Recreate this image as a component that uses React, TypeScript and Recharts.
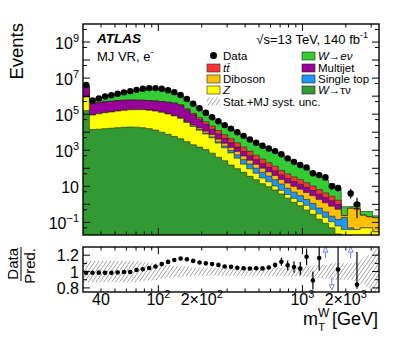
import React from "react";
import { ComposedChart, Area, Scatter, XAxis, YAxis, ErrorBar } from "recharts";

const FONT = "'Liberation Sans', Arial, Helvetica, sans-serif";

// m_T^W bin edges [GeV]
const binEdges = [30, 33.2, 36.7, 40.6, 44.9, 49.6, 54.9, 60.7, 67.1, 74.2, 82.1, 90.8, 100.4, 111.0, 122.8, 135.8, 150.1, 166.0, 183.6, 203.1, 224.6, 248.3, 274.6, 303.7, 335.9, 371.4, 410.8, 454.3, 502.4, 555.6, 614.4, 679.5, 751.4, 831.0, 919.0, 1016, 1124, 1243, 1375, 1520, 1681, 1859, 2056, 2274, 2515, 2781, 3076, 3400];

// expected events per bin
const wenu = [7.0e5, 2.05e5, 3.2e5, 4.8e5, 6.2e5, 8.1e5, 1.03e6, 1.3e6, 1.58e6, 1.92e6, 2.12e6, 2.08e6, 1.83e6, 1.44e6, 1.04e6, 6.7e5, 4.04e5, 2.27e5, 1.27e5, 7.2e4, 3.98e4, 2.49e4, 1.61e4, 1.07e4, 6970, 4520, 2930, 1980, 1380, 996, 703, 464, 282, 183, 122.5, 79, 49, 29.5, 17.8, 11.2, 6.1, 0.5, 0.15, 0.6, 0.15, 0.2, 0.05];
const ttbar = [2e4, 4000, 4500, 5000, 5500, 6000, 6500, 7000, 7500, 8000, 8500, 9000, 9500, 1.1e4, 1.3e4, 1.5e4, 2.1e4, 1.86e4, 1.43e4, 1.05e4, 7100, 4300, 2670, 1710, 1070, 660, 380, 231, 143, 91, 57, 33.5, 21.5, 14.6, 10.3, 7.0, 4.6, 2.9, 1.9, 1.23, 0.7, 0, 0, 0.05, 0, 0, 0];
const multijet = [2.65e6, 2.9e5, 3.3e5, 3.7e5, 3.9e5, 4.1e5, 4.3e5, 4.3e5, 4.2e5, 4.1e5, 3.9e5, 3.9e5, 3.7e5, 3.5e5, 3.2e5, 2.55e5, 1.39e5, 6.8e4, 3.25e4, 1.6e4, 7400, 3900, 2180, 1210, 670, 370, 217, 131, 80, 50, 32, 18.7, 12.2, 8.6, 6.1, 4.2, 2.8, 1.8, 1.2, 0.78, 0.47, 0, 0, 0, 0, 0, 0];
const diboson = [4000, 300, 350, 400, 450, 500, 550, 600, 650, 700, 750, 800, 850, 1000, 1200, 1500, 2500, 3000, 3100, 2600, 1900, 1150, 700, 450, 290, 177, 106, 65, 41, 26, 17.5, 10.6, 7.3, 5.2, 3.9, 2.7, 1.9, 1.26, 0.84, 0.57, 0.39, 0.05, 0.55, 0.5, 0.2, 0.15, 0.15];
const singleTop = [5000, 400, 450, 500, 550, 600, 650, 700, 750, 800, 850, 900, 950, 1000, 1000, 1000, 1800, 1700, 1150, 880, 600, 450, 350, 260, 190, 132, 80, 48, 31, 19, 12.5, 7.5, 4.3, 2.6, 1.6, 1.0, 0.59, 0.32, 0.19, 0.11, 0.08, 0.15, 0.01, 0, 0, 0, 0];
const zjets = [7.3e5, 7.5e4, 9.0e4, 1.04e5, 1.15e5, 1.3e5, 1.44e5, 1.54e5, 1.59e5, 1.6e5, 1.5e5, 1.35e5, 1.16e5, 9.5e4, 7.4e4, 5.45e4, 3.14e4, 1.86e4, 1.15e4, 6900, 4200, 2080, 1100, 560, 270, 110, 57, 30, 15, 8.4, 4.2, 2.2, 1.3, 0.86, 0.58, 0.39, 0.25, 0.15, 0.1, 0.06, 0.04, 0.03, 0.03, 0.03, 0.04, 0.04, 0.02];
const wtaunu = [1.58e5, 1.41e4, 1.48e4, 1.58e4, 1.66e4, 1.78e4, 1.86e4, 1.95e4, 1.91e4, 1.78e4, 1.58e4, 1.32e4, 1.0e4, 7600, 5750, 4370, 3000, 2000, 1500, 1100, 690, 410, 260, 150, 95, 60, 36, 23, 14, 9.6, 6.2, 3.8, 2.2, 1.3, 0.83, 0.49, 0.28, 0.15, 0.09, 0.05, 0.023, 0.01, 0.01, 0.01, 0.01, 0.01, 0.01];

// observed events (null = empty bin)
const dataCounts = [4.2e6, 5.8e5, 7.5e5, 9.6e5, 1.13e6, 1.36e6, 1.62e6, 1.9e6, 2.23e6, 2.59e6, 2.8e6, 2.79e6, 2.55e6, 2.13e6, 1.66e6, 1.16e6, 6.93e5, 3.83e5, 2.12e5, 1.21e5, 6.73e4, 4.02e4, 2.48e4, 1.59e4, 1.0e4, 6270, 3950, 2610, 1770, 1260, 899, 605, 356, 228, 151, 112, 53, 42, 32, 10, 8, null, 4, 1, null, null, null];
const dataErr: Record<number, [number, number]> = { 36: [7, 8], 37: [6.5, 7.5], 38: [5.6, 6.7], 39: [3.1, 4.3], 40: [2.8, 3.9], 42: [1.9, 3.2], 43: [0.83, 1.36] };
const ratioErr: Record<number, [number, number]> = { 30: [0.03, 0.03], 31: [0.05, 0.05], 32: [0.06, 0.06], 33: [0.07, 0.07], 34: [0.08, 0.08], 35: [0.1, 0.1], 36: [0.11, 0.11], 37: [0.15, 0.15], 40: [0.6, 0.6], 43: [0.05, 0.4] };
// Stat.+MJ syst. relative uncertainty
const statMjUnc = [0.13, 0.13, 0.13, 0.13, 0.13, 0.13, 0.13, 0.13, 0.13, 0.12, 0.11, 0.1, 0.09, 0.08, 0.07, 0.065, 0.06, 0.05, 0.05, 0.05, 0.05, 0.05, 0.05, 0.05, 0.05, 0.05, 0.05, 0.05, 0.05, 0.05, 0.05, 0.05, 0.05, 0.06, 0.06, 0.07, 0.07, 0.08, 0.08, 0.1, 0.1, 0.1, 0.1, 0.12, 0.15, 0.2, 1.0];

const mainYTicks = [0.05, 0.1, 0.5, 1, 5, 10, 50, 100, 500, 1e3, 5e3, 1e4, 5e4, 1e5, 5e5, 1e6, 5e6, 1e7, 5e7, 1e8, 5e8, 1e9, 5e9];
const mainYLabels = [0.1, 10, 1e3, 1e5, 1e7, 1e9];
const xTicks = [40, 50, 60, 70, 80, 90, 100, 200, 300, 400, 500, 600, 700, 800, 900, 1000, 2000, 3000];
const ratioTicks = [0.8, 0.9, 1, 1.1, 1.2];
const ratioLabels = [0.8, 1, 1.2];

const STACK = [
  { key: "wtaunu", values: wtaunu, color: "#339933" },
  { key: "zjets", values: zjets, color: "#ffff00" },
  { key: "singleTop", values: singleTop, color: "#1e96ff" },
  { key: "diboson", values: diboson, color: "#ffc000" },
  { key: "multijet", values: multijet, color: "#990099" },
  { key: "ttbar", values: ttbar, color: "#ff3333" },
  { key: "wenu", values: wenu, color: "#33cc33" },
];

// layout
const W = 399;
const PL = 83;
const PR = 379;
const MAIN_H = 240;
const MAIN_TOP = 24;
const MAIN_BOT = 235;
const RAT_OFF = 240;
const RAT_H = 97;
const RAT_TOP = 7;
const RAT_BOT = 52;
const R_MIN = 0.75;
const R_MAX = 1.3;

const nBins = binEdges.length - 1;
const stackRows = binEdges.map((edge, k) => {
  const i = Math.min(k, nBins - 1);
  const row: Record<string, number> = { x: edge };
  let sum = 0;
  for (const s of STACK) {
    sum += s.values[i];
    row[s.key] = sum;
  }
  return row;
});
const totals = binEdges.slice(0, -1).map((_, i) => STACK.reduce((a, s) => a + s.values[i], 0));
const centers = binEdges.slice(0, -1).map((lo, i) => Math.sqrt(lo * binEdges[i + 1]));

const dataPoints: any[] = [];
const ratioPoints: any[] = [];
const upArrows: any[] = [];
const downArrows: any[] = [];
dataCounts.forEach((n, i) => {
  if (n == null) return;
  dataPoints.push({ x: centers[i], y: n, err: dataErr[i] ?? [0, 0] });
  const r = n / totals[i];
  if (r > R_MAX) upArrows.push({ x: centers[i], y: 1.225 });
  else if (r < R_MIN) downArrows.push({ x: centers[i], y: 0.85 });
  else {
    const e = ratioErr[i] ?? [0, 0];
    // keep the bars inside the frame
    ratioPoints.push({ x: centers[i], y: r, err: [Math.min(e[0], r - R_MIN), Math.min(e[1], R_MAX - r)] });
  }
});

const bandRows = binEdges.map((edge, k) => {
  const u = statMjUnc[Math.min(k, nBins - 1)];
  return { x: edge, lo: 1 - u, hi: 1 + u };
});

const xLabel = (v: number) => {
  if (v === 40) return "40";
  if (v === 100) return ["", "2"];
  if (v === 200) return ["2×", "2"];
  if (v === 1000) return ["", "3"];
  if (v === 2000) return ["2×", "3"];
  return null;
};

function XTick(props: any) {
  const { x, payload, top, bottom, labels } = props;
  const v = payload.value;
  const major = v === 100 || v === 1000;
  const len = major ? 7 : 3.5;
  const lab = labels ? xLabel(v) : null;
  return (
    <g>
      <line x1={x} x2={x} y1={bottom} y2={bottom - len} stroke="#000" />
      <line x1={x} x2={x} y1={top} y2={top + len} stroke="#000" />
      {typeof lab === "string" && (
        <text x={x} y={bottom + 13} textAnchor="middle" fontSize={16} fontFamily={FONT} fill="#000">{lab}</text>
      )}
      {Array.isArray(lab) && (
        <text x={x} y={bottom + 13} textAnchor="middle" fontSize={16} fontFamily={FONT} fill="#000">
          {lab[0]}10<tspan dy={-7} fontSize={11}>{lab[1]}</tspan>
        </text>
      )}
    </g>
  );
}

function MainYTick(props: any) {
  const { y, payload } = props;
  const v = payload.value;
  const e = Math.round(Math.log10(v));
  const decade = Math.abs(Math.log10(v) - e) < 1e-6;
  const len = decade ? 7 : 4;
  return (
    <g>
      <line x1={PL} x2={PL + len} y1={y} y2={y} stroke="#000" />
      <line x1={PR} x2={PR - len} y1={y} y2={y} stroke="#000" />
      {mainYLabels.includes(v) && (
        <text x={PL - 4} y={y + 6.5} textAnchor="end" fontSize={16} fontFamily={FONT} fill="#000">
          10{e !== 1 && <tspan dy={-7} fontSize={11}>{e < 0 ? "\u2212" + -e : e}</tspan>}
        </text>
      )}
    </g>
  );
}

function RatioYTick(props: any) {
  const { y, payload } = props;
  const v = payload.value;
  const lab = ratioLabels.includes(v);
  const len = lab ? 7 : 4;
  return (
    <g>
      <line x1={PL} x2={PL + len} y1={y} y2={y} stroke="#000" />
      <line x1={PR} x2={PR - len} y1={y} y2={y} stroke="#000" />
      {lab && (
        <text x={PL - 4} y={y + 6} textAnchor="end" fontSize={16} fontFamily={FONT} fill="#000">{String(v)}</text>
      )}
    </g>
  );
}

const Dot = (r: number) => (p: any) => <circle cx={p.cx} cy={p.cy} r={r} fill="#000" />;
const ARROW = "#6f7bf7";
const UpArrow = (p: any) => (
  <g stroke={ARROW} strokeWidth={1}>
    <line x1={p.cx} x2={p.cx} y1={p.cy + 5} y2={p.cy - 1} />
    <path d={`M${p.cx - 2.5},${p.cy - 1} L${p.cx + 2.5},${p.cy - 1} L${p.cx},${p.cy - 6} Z`} fill="#fff" />
  </g>
);
const DownArrow = (p: any) => (
  <g stroke={ARROW} strokeWidth={1}>
    <line x1={p.cx} x2={p.cx} y1={p.cy - 6} y2={p.cy + 1} />
    <path d={`M${p.cx - 2.5},${p.cy + 1} L${p.cx + 2.5},${p.cy + 1} L${p.cx},${p.cy + 6} Z`} fill="#fff" />
  </g>
);

const legendLeft = [
  { label: "Diboson", color: "#ffc000", y: 79 },
  { label: "Z", color: "#ffff00", y: 90, italic: true },
];
const legendRight = [
  { label: "Multijet", color: "#990099", y: 68 },
  { label: "Single top", color: "#1e96ff", y: 79 },
];

export default function App() {
  return (
    <div style={{ position: "absolute", left: 0, top: 0, width: W, height: 337, background: "#fff" }}>
      <svg width={0} height={0} style={{ position: "absolute" }}>
        <defs>
          <pattern id="hatch" width="3.2" height="3.2" patternUnits="userSpaceOnUse" patternTransform="rotate(35)">
            <line x1="0" y1="0" x2="0" y2="3.2" stroke="#555" strokeWidth="0.9" />
          </pattern>
        </defs>
      </svg>
      <div style={{ position: "absolute", left: 0, top: 0 }}>
        <ComposedChart width={W} height={MAIN_H} data={stackRows}
          margin={{ top: MAIN_TOP, right: W - PR, bottom: 0, left: 0 }}>
          <XAxis dataKey="x" type="number" scale="log" domain={[30, 3400]} allowDataOverflow
            ticks={xTicks} interval={0} height={MAIN_H - MAIN_BOT} axisLine={false} tickLine={false}
            tick={(p: any) => <XTick {...p} top={MAIN_TOP} bottom={MAIN_BOT} labels={false} />} />
          <YAxis type="number" scale="log" domain={[0.02, 1e10]} allowDataOverflow
            ticks={mainYTicks} interval={0} width={PL} axisLine={false} tickLine={false}
            tick={(p: any) => <MainYTick {...p} />} />
          {[...STACK].reverse().map((s) => (
            <Area key={s.key} type="stepAfter" dataKey={s.key} fill={s.color} fillOpacity={1}
              stroke="#222" strokeWidth={0.6} baseValue={0.02} dot={false} activeDot={false}
              isAnimationActive={false} />
          ))}
          <Scatter data={dataPoints} dataKey="y" shape={Dot(3.2)} isAnimationActive={false}>
            <ErrorBar dataKey="err" direction="y" width={0} stroke="#000" strokeWidth={1.2} />
          </Scatter>
        </ComposedChart>
      </div>
      <div style={{ position: "absolute", left: 0, top: RAT_OFF }}>
        <ComposedChart width={W} height={RAT_H} data={bandRows}
          margin={{ top: RAT_TOP, right: W - PR, bottom: 0, left: 0 }}>
          <XAxis dataKey="x" type="number" scale="log" domain={[30, 3400]} allowDataOverflow
            ticks={xTicks} interval={0} height={RAT_H - RAT_BOT} axisLine={false} tickLine={false}
            tick={(p: any) => <XTick {...p} top={RAT_TOP} bottom={RAT_BOT} labels />} />
          <YAxis type="number" domain={[R_MIN, R_MAX]} allowDataOverflow
            ticks={ratioTicks} interval={0} width={PL} axisLine={false} tickLine={false}
            tick={(p: any) => <RatioYTick {...p} />} />
          <Area type="stepAfter" dataKey="hi" fill="url(#hatch)" fillOpacity={1} stroke="none"
            baseValue={R_MIN} dot={false} activeDot={false} isAnimationActive={false} />
          <Area type="stepAfter" dataKey="lo" fill="#fff" fillOpacity={1} stroke="none"
            baseValue={R_MIN} dot={false} activeDot={false} isAnimationActive={false} />
          <Scatter data={ratioPoints} dataKey="y" shape={Dot(2.3)} isAnimationActive={false}>
            <ErrorBar dataKey="err" direction="y" width={0} stroke="#000" strokeWidth={1.2} />
          </Scatter>
          <Scatter data={upArrows} dataKey="y" shape={UpArrow} isAnimationActive={false} />
          <Scatter data={downArrows} dataKey="y" shape={DownArrow} isAnimationActive={false} />
        </ComposedChart>
      </div>
      <svg width={W} height={337} style={{ position: "absolute", left: 0, top: 0, pointerEvents: "none" }}
        fontFamily={FONT}>
        <rect x={PL} y={MAIN_TOP} width={PR - PL} height={MAIN_BOT - MAIN_TOP} fill="none" stroke="#000" strokeWidth={1.4} />
        <rect x={PL} y={RAT_OFF + RAT_TOP} width={PR - PL} height={RAT_BOT - RAT_TOP} fill="none" stroke="#000" strokeWidth={1.4} />

        <text transform="translate(23,23) rotate(-90)" textAnchor="end" fontSize={18.5}>Events</text>
        <text transform="translate(18,248) rotate(-90)" textAnchor="end" fontSize={15}>Data</text>
        <line x1={21} x2={21} y1={247} y2={281} stroke="#000" strokeWidth={1} />
        <text transform="translate(35,248) rotate(-90)" textAnchor="end" fontSize={15}>Pred.</text>

        <text x={378} y={325} textAnchor="end" fontSize={18}>
          m<tspan dy={-8} fontSize={12}>W</tspan><tspan dx={-11} dy={14} fontSize={11}>T</tspan><tspan dx={7} dy={-6}>[GeV]</tspan>
        </text>

        <text x={97} y={43} fontSize={13.5} fontWeight="bold" fontStyle="italic">ATLAS</text>
        <text x={97} y={61} fontSize={13}>MJ VR, e<tspan dy={-6} fontSize={9}>-</tspan></text>
        <text x={368} y={44} textAnchor="end" fontSize={13}>
          √s=13 TeV, 140 fb<tspan dy={-6} fontSize={9}>-1</tspan>
        </text>

        {/* legend */}
        <g fontSize={11.5}>
          <circle cx={213.5} cy={55.5} r={3.5} fill="#000" />
          <text x={223} y={59.5}>Data</text>
          <rect x={207} y={64} width={13} height={8} fill="#ff3333" stroke="#222" strokeWidth={0.6} />
          <text x={223} y={72} fontStyle="italic">tt̄</text>
          {legendLeft.map((e) => (
            <g key={e.label}>
              <rect x={207} y={e.y - 4} width={13} height={8} fill={e.color} stroke="#222" strokeWidth={0.6} />
              <text x={223} y={e.y + 4} fontStyle={e.italic ? "italic" : "normal"}>{e.label}</text>
            </g>
          ))}
          <rect x={207} y={97.5} width={13} height={8} fill="url(#hatch)" />
          <text x={223} y={105.5}>Stat.+MJ syst. unc.</text>

          <rect x={302} y={52} width={13} height={8} fill="#33cc33" stroke="#222" strokeWidth={0.6} />
          <text x={318} y={60}><tspan fontStyle="italic">W</tspan>→<tspan fontStyle="italic">eν</tspan></text>
          {legendRight.map((e) => (
            <g key={e.label}>
              <rect x={302} y={e.y - 4} width={13} height={8} fill={e.color} stroke="#222" strokeWidth={0.6} />
              <text x={318} y={e.y + 4}>{e.label}</text>
            </g>
          ))}
          <rect x={302} y={86} width={13} height={8} fill="#339933" stroke="#222" strokeWidth={0.6} />
          <text x={318} y={94}><tspan fontStyle="italic">W</tspan>→τν</text>
        </g>
      </svg>
    </div>
  );
}
